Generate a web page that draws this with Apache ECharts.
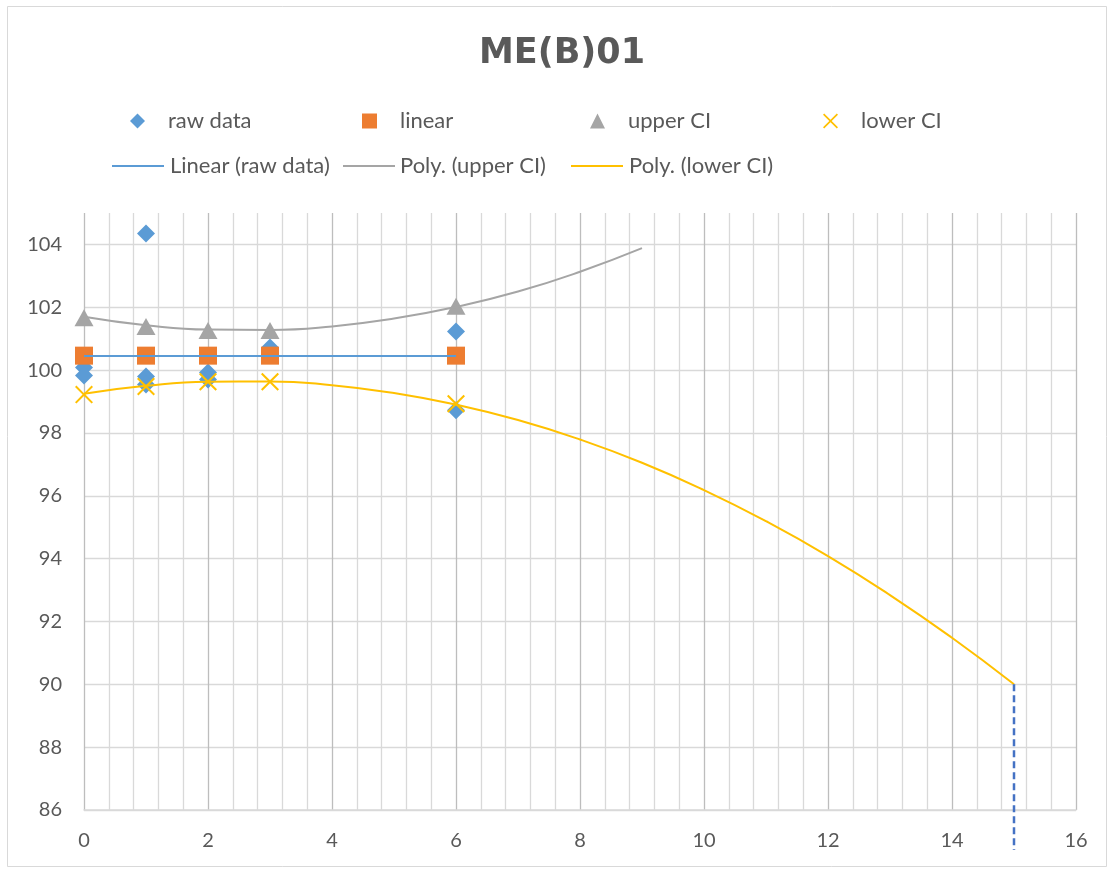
<!DOCTYPE html>
<html>
<head>
<meta charset="utf-8">
<script src="https://cdn.jsdelivr.net/npm/echarts@6/dist/echarts.min.js"></script>
<style>
  html, body { margin: 0; padding: 0; background: #fff; }
  #chart { width: 1114px; height: 873px; }
</style>
</head>
<body>
<div id="chart"></div>
<script>
// measured points
const rawX = [0, 0, 1, 1, 1, 2, 2, 3, 6, 6]
const rawY = [100.08, 99.83, 104.35, 99.8, 99.54, 99.92, 99.7, 100.72, 101.23, 98.72]
const ciX = [0, 1, 2, 3, 6]
const linearY = [100.46, 100.46, 100.46, 100.46, 100.46]
const upperY = [101.67, 101.39, 101.26, 101.26, 102.03]
const lowerY = [99.22, 99.48, 99.63, 99.63, 98.93]

// trendlines
const fitRawX = [0, 6]
const fitRawY = [100.45, 100.45]
const polyUpperX = [0, 1, 2, 3, 4, 5, 6, 7, 8, 9]
const polyUpperY = [101.70, 101.43, 101.29, 101.28, 101.39, 101.64, 102.01, 102.50, 103.13, 103.88]
const polyLowerX = [0, 1, 2, 3, 4, 5, 6, 7, 8, 9, 10, 11, 12, 13, 14, 15]
const polyLowerY = [99.25, 99.50, 99.63, 99.64, 99.52, 99.27, 98.90, 98.41, 97.79, 97.05, 96.18, 95.19, 94.08, 92.84, 91.48, 90.0]

// drop line at x = 15
const limitX = [15, 15]
const limitY = [90, 84.73]

const xMin = 0, xMax = 16, xStep = 2
const yMin = 86, yMax = 105, yStep = 2

const pairs = (xs, ys) => xs.map((x, i) => [x, ys[i]])

const FONT = 'Lato'
const TXT = '#595959'
const crossIcon = 'path://M0.8,0 L5,4.2 L9.2,0 L10,0.8 L5.8,5 L10,9.2 L9.2,10 L5,5.8 L0.8,10 L0,9.2 L4.2,5 L0,0.8 Z'

const legendText = { color: TXT, fontSize: 22, fontFamily: FONT, lineHeight: 24 }
const markLegend = (name, left) => ({
  data: [name], left: left, top: 109, padding: 0, itemWidth: 15, itemHeight: 15,
  selectedMode: false, textStyle: Object.assign({ padding: [0, 0, 0, 18] }, legendText)
})
const lineLegend = (name, left, pad) => ({
  data: [name], left: left, top: 154, padding: 0, icon: 'rect', itemWidth: 52, itemHeight: 2,
  selectedMode: false, textStyle: Object.assign({ padding: [0, 0, 0, pad] }, legendText)
})

const myChart = echarts.init(document.getElementById('chart'))

const option = {
  backgroundColor: '#fff',
  animation: false,
  title: {
    text: 'ME(B)01',
    left: 562,
    textAlign: 'center',
    top: 36,
    padding: 0,
    textStyle: { color: TXT, fontSize: 35, fontWeight: 'bold', fontFamily: 'DejaVu Sans' }
  },
  legend: [
    markLegend('raw data', 130),
    markLegend('linear', 362),
    markLegend('upper CI', 590),
    markLegend('lower CI', 823),
    lineLegend('Linear (raw data)', 112, 1),
    lineLegend('Poly. (upper CI)', 343, 0),
    lineLegend('Poly. (lower CI)', 571, 1)
  ],
  graphic: [{
    type: 'rect',
    shape: { x: 7.5, y: 6.5, width: 1099, height: 860 },
    style: { fill: 'none', stroke: '#D9D9D9', lineWidth: 1 },
    silent: true, z: -10
  }],
  grid: { left: 84, right: 38, top: 213, bottom: 63 },
  xAxis: {
    type: 'value',
    min: xMin, max: xMax, interval: xStep,
    axisLine: { show: true, lineStyle: { color: '#D9D9D9', width: 1.5 } },
    axisTick: { show: false },
    axisLabel: { color: TXT, fontSize: 20, fontFamily: FONT, margin: 21 },
    splitLine: { show: true, lineStyle: { color: '#BDBDBD', width: 1.3 } },
    minorTick: { show: false, splitNumber: 5 },
    minorSplitLine: { show: true, lineStyle: { color: '#D9D9D9', width: 1.3 } }
  },
  yAxis: {
    type: 'value',
    min: yMin, max: yMax, interval: yStep,
    axisLine: { show: false },
    axisTick: { show: false },
    axisLabel: { color: TXT, fontSize: 20, fontFamily: FONT, margin: 22, showMaxLabel: false },
    splitLine: { show: true, showMaxLine: false, lineStyle: { color: '#D9D9D9', width: 1.3 } }
  },
  series: [
    {
      name: 'raw data', type: 'scatter', symbol: 'diamond', symbolSize: 18,
      itemStyle: { color: '#5B9BD5', opacity: 1 }, data: pairs(rawX, rawY), z: 2
    },
    {
      name: 'linear', type: 'scatter', symbol: 'rect', symbolSize: 18,
      itemStyle: { color: '#ED7D31', opacity: 1 }, data: pairs(ciX, linearY), z: 2
    },
    {
      name: 'upper CI', type: 'scatter', symbol: 'triangle', symbolSize: [19, 17],
      itemStyle: { color: '#A5A5A5', opacity: 1 }, data: pairs(ciX, upperY), z: 2
    },
    {
      name: 'lower CI', type: 'scatter', symbol: crossIcon, symbolSize: 18,
      itemStyle: { color: '#FFC000', opacity: 1 }, data: pairs(ciX, lowerY), z: 2
    },
    {
      name: 'Linear (raw data)', type: 'line', symbol: 'none',
      itemStyle: { color: '#5B9BD5' }, lineStyle: { color: '#5B9BD5', width: 2 },
      data: pairs(fitRawX, fitRawY), z: 3
    },
    {
      name: 'Poly. (upper CI)', type: 'line', symbol: 'none', smooth: true,
      itemStyle: { color: '#A5A5A5' }, lineStyle: { color: '#A5A5A5', width: 2 },
      data: pairs(polyUpperX, polyUpperY), z: 3
    },
    {
      name: 'Poly. (lower CI)', type: 'line', symbol: 'none', smooth: true,
      itemStyle: { color: '#FFC000' }, lineStyle: { color: '#FFC000', width: 2 },
      data: pairs(polyLowerX, polyLowerY), z: 3
    },
    {
      name: 'limit', type: 'line', symbol: 'none', clip: false,
      lineStyle: { color: '#4472C4', width: 2.5, type: [7, 4] },
      data: pairs(limitX, limitY), z: 3
    }
  ]
}

myChart.setOption(option)
</script>
</body>
</html>
